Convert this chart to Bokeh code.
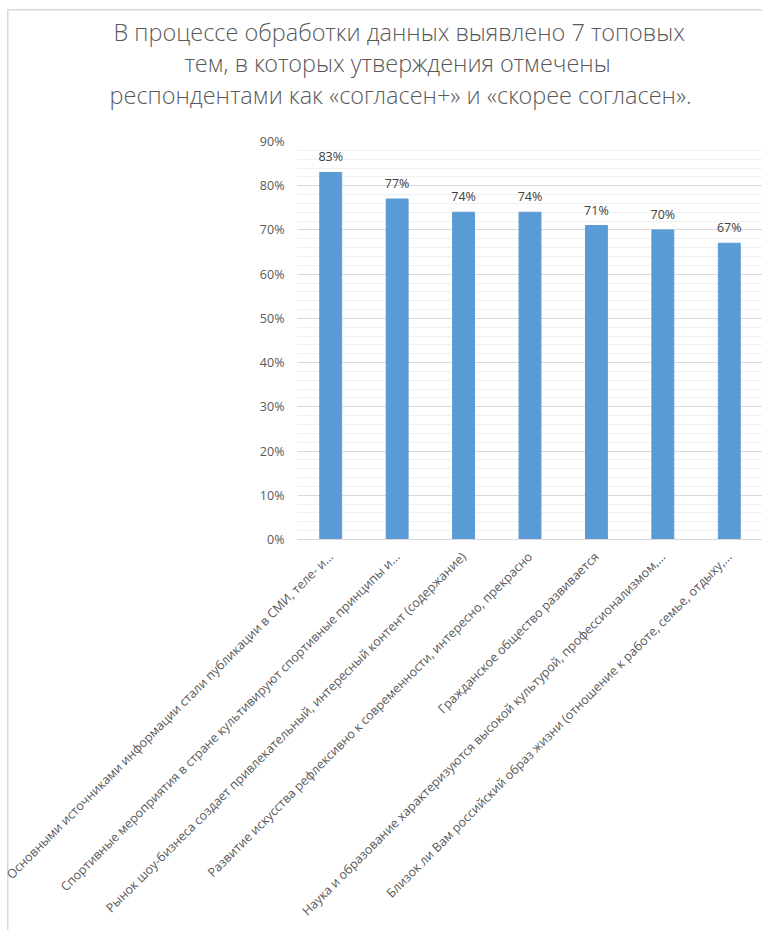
import math
from bokeh.plotting import figure
from bokeh.models import (FactorRange, Range1d, SingleIntervalTicker, PrintfTickFormatter,
                          ColumnDataSource, Title)
from bokeh.core.properties import value
from bokeh.embed import file_html
from bokeh.resources import INLINE

title_lines = [
    "В процессе обработки данных выявлено 7 топовых",
    "тем, в которых утверждения отмечены",
    "респондентами как «согласен+» и «скорее согласен».",
]
categories = [
    "Основными источниками информации стали публикации в СМИ, теле- и…",
    "Спортивные мероприятия в стране культивируют спортивные принципы и…",
    "Рынок шоу-бизнеса создает привлекательный, интересный контент (содержание)",
    "Развитие искусства рефлексивно к современности, интересно, прекрасно",
    "Гражданское общество развивается",
    "Наука и образование характеризуются высокой культурой, профессионализмом,…",
    "Близок ли Вам российский образ жизни (отношение к работе, семье, отдыху,…",
]
values = [83, 77, 74, 74, 71, 70, 67]
value_labels = ["83%", "77%", "74%", "74%", "71%", "70%", "67%"]

FONT = "Open Sans"
TITLE_FONT = "'Open Sans Light', 'Open Sans'"
GRAY = "#595959"

src = ColumnDataSource(dict(cat=categories, val=values, lab=value_labels))

p = figure(x_range=FactorRange(factors=categories), y_range=Range1d(0, 90),
           width=762, height=930, output_backend="svg", toolbar_location=None,
           min_border_left=297, min_border_right=0, min_border_top=141, min_border_bottom=391)
p.outline_line_color = None
p.background_fill_color = "white"
p.border_fill_color = None
p.styles = {
    "background": "linear-gradient(#d9d9d9,#d9d9d9) 7px 9px / 1.5px 100% no-repeat, "
                  "linear-gradient(#d9d9d9,#d9d9d9) 7px 9px / 100% 1.5px no-repeat, white"
}

p.vbar(x="cat", top="val", width=0.33, source=src, fill_color="#5b9bd5", line_color="#5b9bd5")
p.text(x="cat", y="val", text="lab", source=src, text_align="center", text_baseline="bottom",
       y_offset=-7, text_font=value(FONT), text_font_size="12.5px", text_color="#404040")

# y axis
p.yaxis.ticker = SingleIntervalTicker(interval=10, num_minor_ticks=5)
p.yaxis.formatter = PrintfTickFormatter(format="%d%%")
p.yaxis.axis_line_color = None
p.yaxis.major_tick_line_color = None
p.yaxis.minor_tick_line_color = None
p.yaxis.major_tick_out = 0
p.yaxis.minor_tick_out = 0
p.yaxis.major_label_standoff = 13
p.yaxis.major_label_text_font = FONT
p.yaxis.major_label_text_font_size = "12.5px"
p.yaxis.major_label_text_color = GRAY

p.ygrid.grid_line_color = "#d9d9d9"
p.ygrid.minor_grid_line_color = "#f0f0f0"
p.xgrid.grid_line_color = None

# x axis
p.xaxis.axis_line_color = "#d9d9d9"
p.xaxis.major_tick_line_color = None
p.xaxis.minor_tick_line_color = None
p.xaxis.major_tick_out = 0
p.xaxis.major_label_orientation = math.pi / 4
p.xaxis.major_label_standoff = 15
p.xaxis.major_label_text_font = FONT
p.xaxis.major_label_text_font_size = "12.5px"
p.xaxis.major_label_text_color = GRAY

# spacer between the title block and the plot frame
p.add_layout(Title(text=" ", text_font_size="1px", standoff=26), "above")
# title: first added is closest to the plot frame
offsets = [-184, -113, -188]
standoffs = [-3, -4, 0]
for t, o, s in reversed(list(zip(title_lines, offsets, standoffs))):
    p.add_layout(Title(text=t, align="left", vertical_align="top", offset=o, standoff=s,
                       text_font=TITLE_FONT, text_font_size="23.5px",
                       text_font_style="normal", text_color=GRAY), "above")

open("out.html", "w").write(file_html(p, INLINE))
